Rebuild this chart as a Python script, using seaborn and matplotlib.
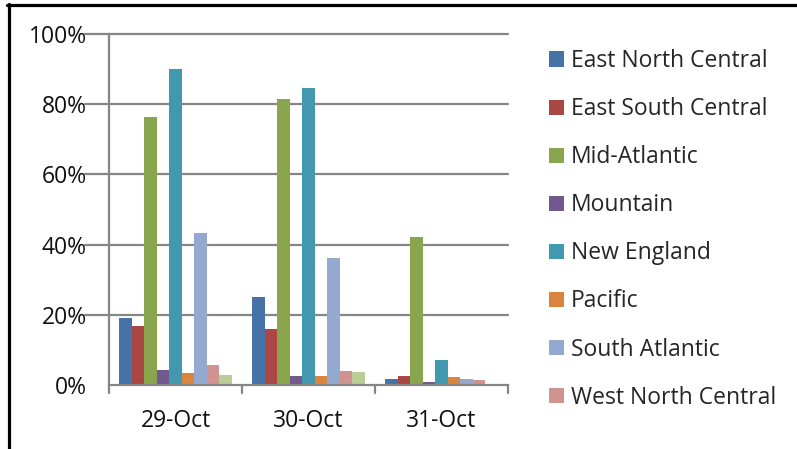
import matplotlib
matplotlib.use("Agg")
import matplotlib.pyplot as plt
from matplotlib.lines import Line2D
from matplotlib.patches import Patch
import seaborn as sns
import pandas as pd

dates = ["29-Oct", "30-Oct", "31-Oct"]
regions = ["East North Central", "East South Central", "Mid-Atlantic", "Mountain",
           "New England", "Pacific", "South Atlantic", "West North Central",
           "West South Central"]
# share of customers without power, per region and day (%)
east_north_central = [19.1, 25.0, 1.8]
east_south_central = [16.8, 15.9, 2.7]
mid_atlantic = [76.4, 81.5, 42.2]
mountain = [4.3, 2.5, 0.9]
new_england = [90.0, 84.6, 7.1]
pacific = [3.3, 2.6, 2.2]
south_atlantic = [43.3, 36.2, 1.7]
west_north_central = [5.7, 4.0, 1.3]
west_south_central = [2.8, 3.6, 0.0]
yticks = [0, 20, 40, 60, 80, 100]
ytick_labels = ["0%", "20%", "40%", "60%", "80%", "100%"]

colors = ["#4572A7", "#AA4643", "#89A54E", "#71588F", "#4198AF",
          "#DB843D", "#93A9CF", "#D19392", "#B9CD96"]

series = [east_north_central, east_south_central, mid_atlantic, mountain,
          new_england, pacific, south_atlantic, west_north_central,
          west_south_central]
rows = []
for reg, vals in zip(regions, series):
    for d, v in zip(dates, vals):
        rows.append({"date": d, "region": reg, "value": v})
df = pd.DataFrame(rows)

sns.set_style("white")
plt.rcParams["font.family"] = ["Open Sans", "DejaVu Sans"]
FS = 16.5

fig = plt.figure(figsize=(7.97, 4.49), dpi=100)
ax = fig.add_axes([109 / 797, 1 - 385 / 449, (508 - 109) / 797, (385 - 34) / 449])

sns.barplot(data=df, x="date", y="value", hue="region", hue_order=regions,
            order=dates, palette=colors, width=0.85, gap=0, ax=ax,
            legend=False, saturation=1, linewidth=0)

ax.set_ylim(0, 100)
ax.set_xlim(-0.5, 2.5)
ax.set_yticks(yticks)
ax.set_yticklabels(ytick_labels, fontsize=FS, color="#111111")
ax.set_xlabel("")
ax.set_ylabel("")
ax.tick_params(axis="x", labelsize=FS, colors="#111111", length=0, pad=17)
ax.tick_params(axis="y", length=0, pad=16)
for y in yticks[1:]:
    ax.plot([-0.06, 1], [y / 100, y / 100], transform=ax.transAxes,
            color="#868686", lw=1.6, clip_on=False, zorder=0)
ax.set_axisbelow(True)
for side in ["top", "right"]:
    ax.spines[side].set_visible(False)
for side in ["left", "bottom"]:
    ax.spines[side].set_color("#868686")
    ax.spines[side].set_linewidth(1.6)
# x-axis category separators
for xb in [-0.5, 0.5, 1.5, 2.5]:
    ax.plot([xb, xb], [0, -2.3], color="#868686", lw=1.6, clip_on=False)

handles = [Patch(facecolor=c, edgecolor="none") for c in colors[:8]]
fig.legend(handles, regions[:8], loc="upper left",
           bbox_to_anchor=(540 / 797, 1 - 40 / 449), frameon=False,
           fontsize=FS, handlelength=0.65, handleheight=0.65,
           handletextpad=0.3, labelspacing=1.05, borderaxespad=0)

# outer chart border
fig.add_artist(Line2D([7 / 797, 1], [1 - 5 / 449, 1 - 5 / 449],
                      transform=fig.transFigure, color="black", lw=2.3))
fig.add_artist(Line2D([8.5 / 797, 8.5 / 797], [0, 1 - 4 / 449],
                      transform=fig.transFigure, color="black", lw=2.3))

fig.savefig("out.png", dpi=100)
